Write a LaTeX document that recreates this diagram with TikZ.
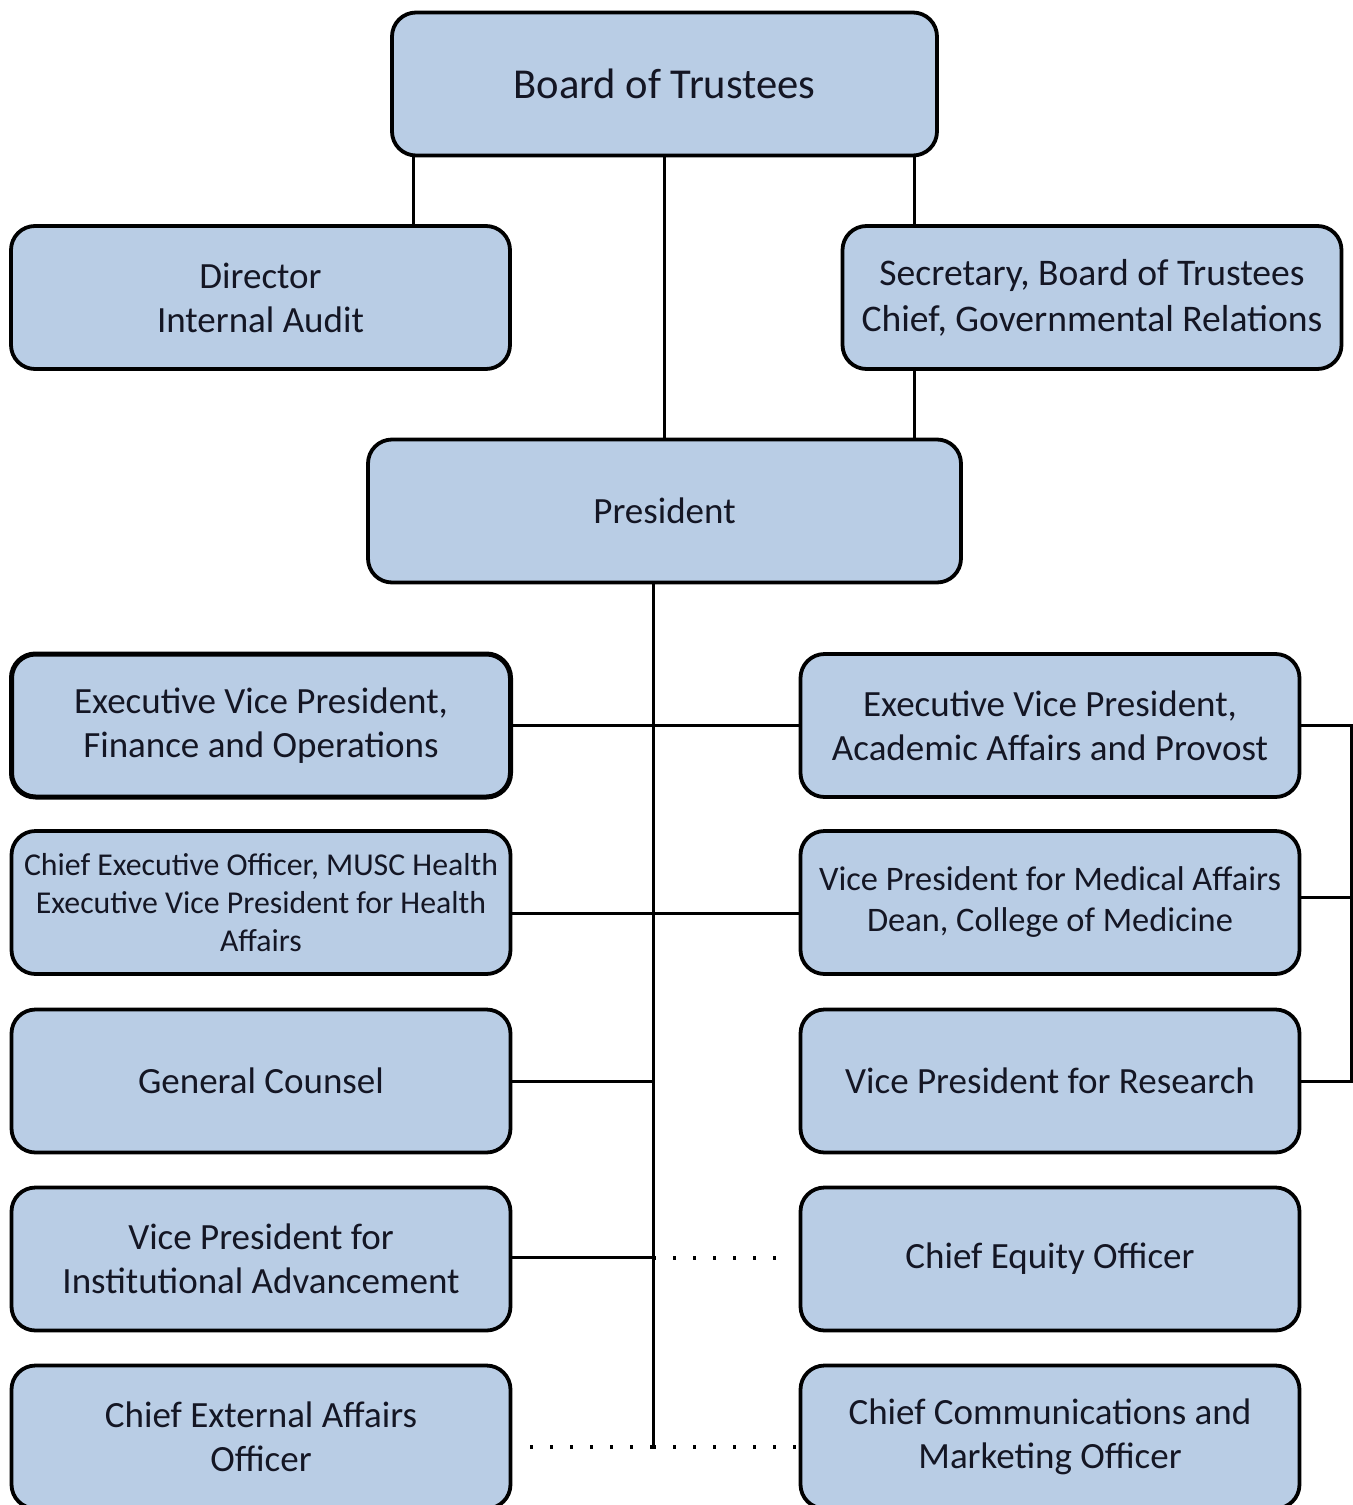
\documentclass[tikz,border=0pt]{standalone}
\usepackage{fontspec}
\setmainfont{Carlito}
\usetikzlibrary{positioning,calc}
\definecolor{boxblue}{RGB}{185,205,229}
\definecolor{boxtext}{RGB}{20,22,36}

\begin{document}
\begin{tikzpicture}[x=0.5pt,y=-0.5pt,
  orgbox/.style={draw,line width=1.9pt,rounded corners=12pt,fill=boxblue,text=boxtext,
    align=center,inner sep=2pt,minimum width=249.5pt,minimum height=71.5pt,
    font=\fontsize{18.5}{22}\selectfont},
  link/.style={line width=1.5pt},
  dotlink/.style={line width=1.8pt,dash pattern=on 1.4pt off 8.6pt}]
\useasboundingbox (0,0) rectangle (1353,1505);
% top of the chart
\node[orgbox,minimum width=272.5pt,font=\fontsize{21.3}{26}\selectfont] (board) at (664.5,84) {Board of Trustees};
\node[orgbox] (audit) at (260.5,297.5) {Director\\Internal Audit};
\node[orgbox,font=\fontsize{18.8}{23}\selectfont] (secretary) at (1092,297.5) {Secretary, Board of Trustees\\Chief, Governmental Relations};
\node[orgbox,minimum width=296.5pt] (president) at (664.5,511) {President};
% left column
\node[orgbox,line width=2.5pt] (evpfin) at (261,725.5) {Executive Vice President,\\Finance and Operations};
\node[orgbox,font=\fontsize{15.9}{18.8}\selectfont] (ceo) at (261,902.5) {Chief Executive Officer, MUSC Health\\Executive Vice President for Health\\Affairs};
\node[orgbox] (counsel) at (261,1081) {General Counsel};
\node[orgbox] (vpia) at (261,1259) {Vice President for\\Institutional Advancement};
\node[orgbox] (external) at (261,1437) {Chief External Affairs\\Officer};
% right column
\node[orgbox] (evpaa) at (1050,725.5) {Executive Vice President,\\Academic Affairs and Provost};
\node[orgbox,font=\fontsize{17.2}{20.5}\selectfont] (vpmed) at (1050,902.5) {Vice President for Medical Affairs\\Dean, College of Medicine};
\node[orgbox] (vpres) at (1050,1081) {Vice President for Research};
\node[orgbox] (equity) at (1050,1259) {Chief Equity Officer};
\node[orgbox] (comm) at (1050,1437) {Chief Communications and\\Marketing Officer};
% board links
\coordinate (bl) at ([xshift=11.5pt]board.south west);
\coordinate (br) at ([xshift=-12pt]board.south east);
\draw[link] (bl) -- (bl |- audit.north);
\draw[link] (br) -- (br |- secretary.north);
\draw[link] (board.south) -- (president.north);
\draw[link] (secretary.south -| br) -- (br |- president.north);
% trunk from the president
\coordinate (top) at ([xshift=-5.75pt]president.south);
\coordinate (bottom) at ($(top |- external.east)+(0,10)$);
\draw[link] (top) -- (bottom);
\draw[link] (evpfin.east) -- (evpaa.west);
\draw[link] ([yshift=-5.25pt]ceo.east) -- ([yshift=-5.25pt]vpmed.west);
\draw[link] (counsel.east) -- (counsel.east -| top);
\draw[link] ([yshift=1pt]vpia.east) -- ([yshift=1pt]vpia.east -| top);
\draw[dotlink] ([yshift=0.5pt]vpia.east -| top) -- ([xshift=-5pt,yshift=0.5pt]equity.west);
\draw[dotlink] ([xshift=9pt]bottom -| external.east) -- (bottom);
\draw[dotlink] (bottom) -- (bottom -| comm.west);
% right bracket
\coordinate (rb) at ([xshift=25pt]evpaa.east);
\draw[link] (evpaa.east) -- (rb) |- (vpres.east);
\draw[link] ([yshift=2.75pt]vpmed.east) -- ([yshift=2.75pt]vpmed.east -| rb);
\end{tikzpicture}
\end{document}
